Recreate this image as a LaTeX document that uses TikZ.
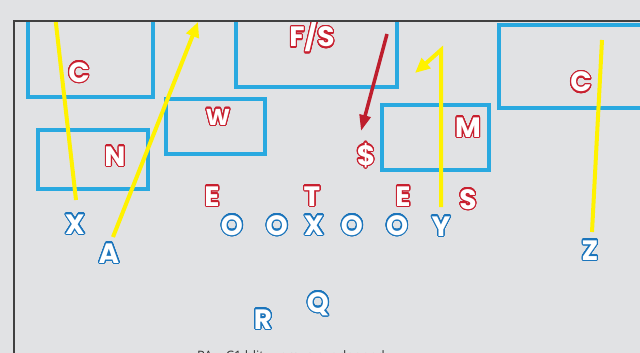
\documentclass[tikz,border=0pt]{standalone}
\usepackage{fontspec}
\usepackage{contour}
\usetikzlibrary{arrows.meta}
\newfontfamily\lf{Poppins}
\setsansfont{Open Sans}
\definecolor{bg}{HTML}{E1E2E4}
\definecolor{bbox}{HTML}{29A9E0}
\definecolor{rc}{HTML}{C8202F}
\definecolor{bc}{HTML}{1B75BC}
\definecolor{yl}{HTML}{FFF200}
\definecolor{darr}{HTML}{BE1E2D}
\contourlength{1.1pt}
\contournumber{32}
\newcommand\rtx[1]{\contour{rc}{\textcolor{white}{#1}}}
\newcommand\btx[1]{\contour{bc}{\textcolor{white}{#1}}}
\tikzset{
  lt/.style={font=\lf\bfseries\fontsize{28}{28}\selectfont, inner sep=0pt, anchor=base},
  lts/.style={font=\lf\bfseries\fontsize{23}{23}\selectfont, inner sep=0pt, anchor=base},
  zone/.style={draw=bbox, line width=4pt},
  route/.style={draw=yl, line width=4pt},
  frame/.style={draw=black!75, line width=1.5pt}
}
\begin{document}
\begin{tikzpicture}[x=1pt,y=-1pt]
\fill[bg] (0,0) rectangle (640,353);
\useasboundingbox (0,0) rectangle (640,353);
\begin{scope}
\clip (14,21) rectangle (640,353);
% zones
\draw[zone] (28,0) rectangle (153,97);
\draw[zone] (38,130) rectangle (148,189);
\draw[zone] (166,99) rectangle (265,154);
\draw[zone] (236,0) rectangle (397,87);
\draw[zone] (382,105) rectangle (489,170);
\draw[zone] (499,25) rectangle (660,108);
% defense letters
\node[lt] (c1) at (79,82) {\rtx{C}};
\node[lt] (n) at (115,166) {\rtx{N}};
\node[lts] (w) at (218,125) {\rtx{W}};
\node[lt] (fs) at (312,47) {\rtx{F/S}};
\node[lt] (dol) at (366,165) {\rtx{\$}};
\node[lt] (m) at (468,137) {\rtx{M}};
\node[lt] (c2) at (581,92) {\rtx{C}};
\node[lt] (e1) at (212,206) {\rtx{E}};
\node[lt] (t) at (312,206) {\rtx{T}};
\node[lt] (e2) at (403,206) {\rtx{E}};
\node[lt] (s) at (468,209) {\rtx{S}};
% offense letters
\node[lt] (xl) at (75,234) {\btx{X}};
\node[lt] (a) at (109,263) {\btx{A}};
\node[lt] (o1) at (232,235) {\btx{O}};
\node[lt] (o2) at (277,235) {\btx{O}};
\node[lt] (xc) at (314,235) {\btx{X}};
\node[lt] (o3) at (352,235) {\btx{O}};
\node[lt] (o4) at (397,235) {\btx{O}};
\node[lt] (y) at (441,236) {\btx{Y}};
\node[lt] (z) at (590,260) {\btx{Z}};
\node[lt] (q) at (318,312) {\btx{Q}};
\node[lt] (r) at (263,329) {\btx{R}};
% route end points
\coordinate (xs) at (76,200);
\coordinate (xe) at (55,15);
\coordinate (as) at (113,237);
\coordinate (ae) at (198,22);
\coordinate (ys) at (441,207);
\coordinate (yt) at (441,50);
\coordinate (ye) at (415,73);
\coordinate (zs) at (592,232);
\coordinate (ze) at (602,40);
\coordinate (fss) at (387,34);
\coordinate (fse) at (361,131);
% routes
\draw[route] (xs) -- (xe);
\draw[route, -{Triangle[length=15pt,width=13pt]}] (as) -- (ae);
\draw[route, line join=miter, -{Triangle[length=15pt,width=13pt]}] (ys) -- (yt) -- (ye);
\draw[route] (zs) -- (ze);
\draw[draw=darr, line width=3.5pt, -{Triangle[length=16pt,width=11pt]}] (fss) -- (fse);
\end{scope}
% frame
\draw[frame] (14,353) -- (14,21) -- (640,21);
% caption (cut off at bottom)
\node[font=\sffamily\fontsize{13}{13}\selectfont, text=black!80, inner sep=0pt, anchor=base west] (cap) at (197,360) {PA -- C1 blitz versus overlapped};
\end{tikzpicture}
\end{document}
